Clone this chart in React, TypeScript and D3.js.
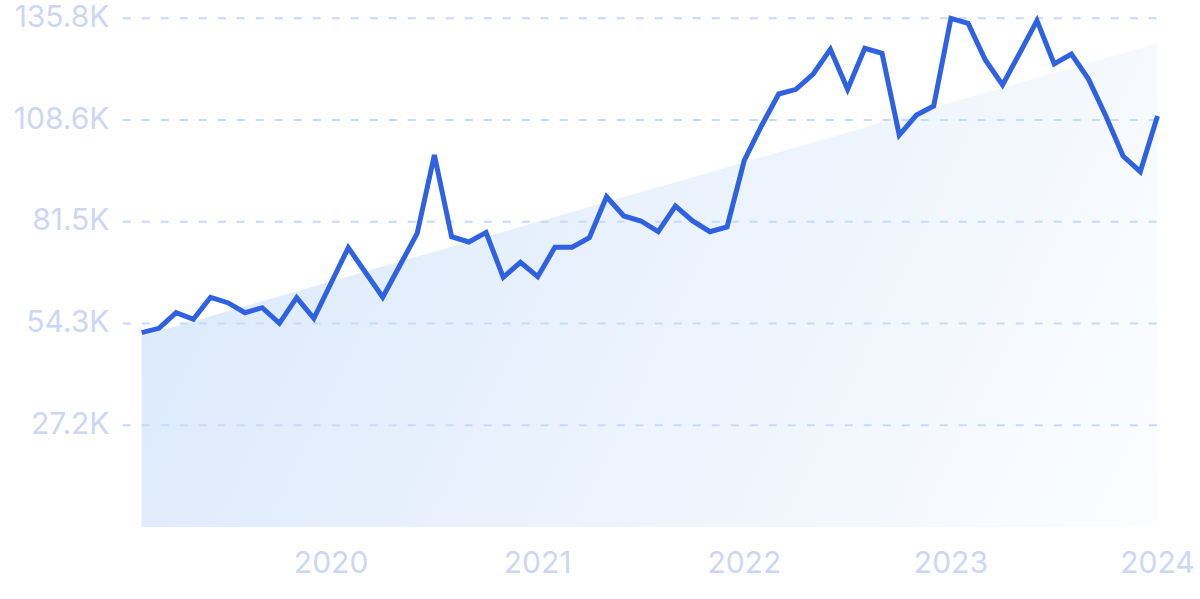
import React from "react";
import * as d3 from "d3";

const months: string[] = d3.range(60).map((i) => {
  const d = new Date(2019, 1 + i, 1);
  return d3.timeFormat("%Y-%m")(d);
});

const values: number[] = [
  51.87, 53.04, 57.21, 55.45, 61.32, 59.88, 57.21, 58.54, 54.38, 61.21,
  55.71, 65.14, 74.56, 67.94, 61.32, 69.86, 78.4, 99.31, 77.5, 76.08,
  78.62, 66.66, 70.66, 66.82, 74.67, 74.67, 77.23, 88.17, 83.02, 81.69,
  78.83, 85.69, 81.69, 78.83, 80.09, 97.89, 107.13, 115.59, 116.84, 120.93,
  127.52, 116.84, 127.79, 126.45, 104.64, 109.98, 112.39, 135.8, 134.46, 124.67,
  117.99, 126.54, 135.16, 123.6, 126.27, 119.51, 109.72, 99.04, 94.85, 109.72,
].map((v) => v * 1000);

const yTickLabels: string[] = ["27.2K", "54.3K", "81.5K", "108.6K", "135.8K"];
const xTickLabels: string[] = ["2020", "2021", "2022", "2023", "2024"];

const W = 1200;
const H = 599;
const left = 141.7;
const right = 1157.5;
const top = 18.3;
const bottom = 527;

export default function App() {
  const maxV = d3.max(values) as number;
  const x = d3.scaleLinear().domain([0, values.length - 1]).range([left, right]);
  const y = d3.scaleLinear().domain([0, maxV]).range([bottom, top]);

  // least squares trend
  const n = values.length;
  const xm = d3.mean(d3.range(n)) as number;
  const ym = d3.mean(values) as number;
  let num = 0;
  let den = 0;
  values.forEach((v, i) => {
    num += (i - xm) * (v - ym);
    den += (i - xm) * (i - xm);
  });
  const slope = num / den;
  const icpt = ym - slope * xm;
  const trend = d3.range(n).map((i) => icpt + slope * i);

  const area = d3
    .area<number>()
    .x((_, i) => x(i))
    .y0(bottom)
    .y1((d) => y(d));
  const line = d3
    .line<number>()
    .x((_, i) => x(i))
    .y((d) => y(d));

  const tickVals = yTickLabels.map((_, i) => (maxV * (i + 1)) / yTickLabels.length);
  const xIdx = xTickLabels.map((yr) => months.indexOf(`${yr}-01`));

  const font = "Inter, 'Noto Sans', sans-serif";
  const labelColor = "#cdd7f5";

  return (
    <svg
      width={W}
      height={H}
      style={{ position: "absolute", left: 0, top: 0, background: "#fff" }}
    >
      <defs>
        <linearGradient
          id="ag"
          gradientUnits="userSpaceOnUse"
          x1={left}
          y1={top + 20}
          x2={right}
          y2={bottom}
        >
          <stop offset="0%" stopColor="#d9e8fb" />
          <stop offset="100%" stopColor="#fcfdff" />
        </linearGradient>
      </defs>
      <path d={area(trend) as string} fill="url(#ag)" />
      {tickVals.map((t, i) => (
        <g key={i}>
          <line
            x1={122.7}
            x2={right}
            y1={y(t)}
            y2={y(t)}
            stroke="#c5dbfb"
            strokeWidth={2}
            strokeDasharray="8,11"
          />
          <text
            x={109.5}
            y={y(t) + 8.6}
            textAnchor="end"
            fontFamily={font}
            fontSize={30}
            fontWeight={400}
            fill={labelColor}
          >
            {yTickLabels[i]}
          </text>
        </g>
      ))}
      {xIdx.map((xi, i) => (
        <text
          key={i}
          x={x(xi)}
          y={573.3}
          textAnchor="middle"
          fontFamily={font}
          fontSize={30}
          fontWeight={400}
          fill={labelColor}
        >
          {xTickLabels[i]}
        </text>
      ))}
      <path
        d={line(values) as string}
        fill="none"
        stroke="#2f62e3"
        strokeWidth={5}
        strokeLinejoin="miter"
        strokeLinecap="butt"
      />
    </svg>
  );
}
